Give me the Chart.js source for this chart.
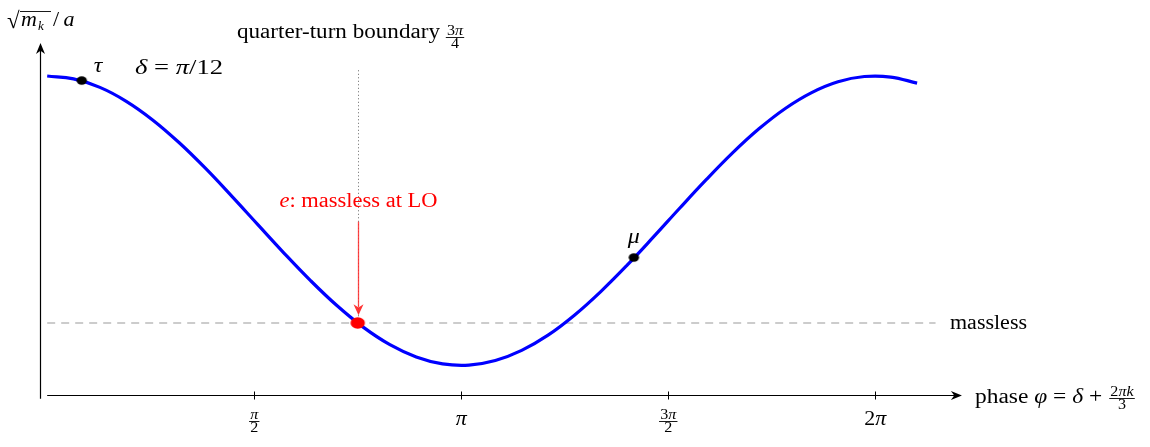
<!DOCTYPE html>
<html>
<head>
<meta charset="utf-8">
<script src="https://cdn.jsdelivr.net/npm/chart.js@4"></script>
<style>
  html, body { margin: 0; padding: 0; background: #fff; }
  #wrap { width: 1150px; height: 447px; position: relative; }
</style>
</head>
<body>
<div id="wrap"><canvas id="phaseChart"></canvas></div>
<script>
// curve: sqrt(m_k)/a against the phase
const phase = [0, 0.2, 0.4, 0.6, 0.8, 1.0, 1.2, 1.4, 1.6, 1.8, 2.0, 2.2, 2.4, 2.6, 2.8, 3.0, 3.2,
  3.4, 3.6, 3.8, 4.0, 4.2, 4.4, 4.6, 4.8, 5.0, 5.2, 5.4, 5.6, 5.8, 6.0, 6.2, 6.4, 6.6];
const rootMass = [2.414, 2.386, 2.303, 2.167, 1.985, 1.764, 1.513, 1.240, 0.959, 0.679, 0.412, 0.168,
  -0.043, -0.212, -0.332, -0.400, -0.412, -0.367, -0.268, -0.119, 0.076, 0.307, 0.565, 0.841,
  1.124, 1.401, 1.663, 1.898, 2.097, 2.252, 2.358, 2.409, 2.404, 2.344];

// the three leptons
const leptonNames = ['τ', 'e', 'μ'];
const leptonPhase = [0.262, 2.356, 4.451];
const leptonValue = [2.37, 0, 0.64];

// x ticks
const tickPhase = [1.571, 3.142, 4.712, 6.283];
const tickLabels = [['π', '2'], ['π'], ['3π', '2'], ['2π']];

const masslessLevel = 0;
const masslessEnd = 6.74;
const boundaryPhase = 2.356;
const boundaryTop = 2.47;

const serif = '"Liberation Serif", "DejaVu Serif", serif';

function font(size, italic) {
  return (italic ? 'italic ' : '') + size + 'px ' + serif;
}

// draw a row of text pieces [text, italic], optionally stretched to a width
function drawRuns(ctx, parts, x, y, o) {
  const size = o.size || 20;
  ctx.save();
  ctx.fillStyle = o.color || '#000';
  ctx.textBaseline = 'alphabetic';
  ctx.textAlign = 'left';
  let natural = 0;
  const widths = parts.map(p => {
    ctx.font = font(size, p[1]);
    const w = ctx.measureText(p[0]).width;
    natural += w;
    return w;
  });
  const sx = o.width ? o.width / natural : (o.stretch || 1);
  const total = natural * sx;
  let start = x;
  if (o.align === 'center') start = x - total / 2;
  if (o.align === 'right') start = x - total;
  ctx.translate(start, y);
  ctx.scale(sx, 1);
  let cx = 0;
  parts.forEach((p, i) => {
    ctx.font = font(size, p[1]);
    ctx.fillText(p[0], cx, 0);
    cx += widths[i];
  });
  ctx.restore();
  return start + total;
}

function splitPi(s) {
  // digits upright, letters italic
  const out = [];
  for (const ch of s) out.push([ch, !/[0-9]/.test(ch)]);
  return out;
}

function drawFrac(ctx, num, den, cx, barY, size, color) {
  ctx.save();
  ctx.font = font(size, true);
  const w = (Math.max(ctx.measureText(num).width, ctx.measureText(den).width) + 2) * 1.15;
  ctx.fillStyle = color || '#000';
  ctx.fillRect(cx - w / 2, barY - 0.4, w, 0.9);
  ctx.restore();
  drawRuns(ctx, splitPi(num), cx, barY - 2.2, { size: size, align: 'center', color: color, stretch: 1.15 });
  drawRuns(ctx, splitPi(den), cx, barY + size * 0.74, { size: size, align: 'center', color: color, stretch: 1.15 });
}

function arrowHead(ctx, tx, ty, dx, dy, len, half, color) {
  const n = Math.hypot(dx, dy);
  const ux = dx / n, uy = dy / n;
  ctx.save();
  ctx.fillStyle = color;
  ctx.beginPath();
  ctx.moveTo(tx, ty);
  ctx.lineTo(tx - ux * len - uy * half, ty - uy * len + ux * half);
  ctx.lineTo(tx - ux * len * 0.7, ty - uy * len * 0.7);
  ctx.lineTo(tx - ux * len + uy * half, ty - uy * len - ux * half);
  ctx.closePath();
  ctx.fill();
  ctx.restore();
}

// lepton markers are drawn a little wider than tall, as in the original
function ellipseMarker(rx, ry, color) {
  const c = document.createElement('canvas');
  c.width = Math.ceil(rx * 2) + 2;
  c.height = Math.ceil(ry * 2) + 2;
  const g = c.getContext('2d');
  g.fillStyle = color;
  g.beginPath();
  g.ellipse(c.width / 2, c.height / 2, rx, ry, 0, 0, Math.PI * 2);
  g.fill();
  return c;
}

const axesPlugin = {
  id: 'texAxes',
  beforeDatasetsDraw(chart) {
    const ctx = chart.ctx;
    const xs = chart.scales.x, ys = chart.scales.y;
    const axisY = Math.round(ys.getPixelForValue(-0.7)) + 0.5;
    const x0 = xs.getPixelForValue(0);
    const xEnd = xs.getPixelForValue(6.94);
    const yAxisX = Math.round(xs.getPixelForValue(-0.055)) + 0.5;
    ctx.save();
    ctx.strokeStyle = '#000';
    ctx.lineWidth = 1.2;
    ctx.beginPath();
    ctx.moveTo(x0, axisY);
    ctx.lineTo(xEnd - 6, axisY);
    ctx.moveTo(yAxisX, ys.getPixelForValue(-0.74));
    ctx.lineTo(yAxisX, ys.getPixelForValue(2.737) + 6);
    ctx.stroke();
    arrowHead(ctx, xEnd, axisY, 1, 0, 11, 4.5, '#000');
    arrowHead(ctx, yAxisX, ys.getPixelForValue(2.737), 0, -1, 11, 4.5, '#000');

    ctx.lineWidth = 1;
    tickPhase.forEach(v => {
      const px = Math.round(xs.getPixelForValue(v)) + 0.5;
      ctx.beginPath();
      ctx.moveTo(px, axisY - 4);
      ctx.lineTo(px, axisY + 4);
      ctx.stroke();
    });
    ctx.restore();

    tickPhase.forEach((v, i) => {
      const px = xs.getPixelForValue(v);
      const lab = tickLabels[i];
      if (lab.length === 2) drawFrac(ctx, lab[0], lab[1], px, axisY + 26, 14);
      else drawRuns(ctx, splitPi(lab[0]), px, axisY + 29, { size: 20, align: 'center', stretch: 1.1 });
    });

    // dotted boundary
    const bx = Math.round(xs.getPixelForValue(boundaryPhase)) + 0.5;
    ctx.save();
    ctx.strokeStyle = '#666';
    ctx.lineWidth = 1;
    ctx.setLineDash([1, 2.5]);
    ctx.beginPath();
    ctx.moveTo(bx, ys.getPixelForValue(boundaryTop));
    ctx.lineTo(bx, ys.getPixelForValue(0.05));
    ctx.stroke();
    ctx.restore();
  },
  afterDatasetsDraw(chart) {
    const ctx = chart.ctx;
    const xs = chart.scales.x, ys = chart.scales.y;

    // red arrow onto the electron
    const ex = Math.round(xs.getPixelForValue(leptonPhase[1])) + 0.5;
    const top = ys.getPixelForValue(0.99);
    const tip = ys.getPixelForValue(0.075);
    ctx.save();
    ctx.strokeStyle = 'rgba(255,40,40,0.85)';
    ctx.lineWidth = 1.3;
    ctx.beginPath();
    ctx.moveTo(ex, top);
    ctx.lineTo(ex, tip - 8);
    ctx.stroke();
    ctx.restore();
    arrowHead(ctx, ex, tip, 0, 1, 11, 5, 'rgba(255,30,30,0.9)');

    // axis labels
    ctx.save();
    ctx.strokeStyle = '#000';
    ctx.lineWidth = 0.9;
    ctx.beginPath();
    ctx.moveTo(20, 11.5);
    ctx.lineTo(51, 11.5);
    ctx.stroke();
    ctx.restore();
    drawRuns(ctx, [['√', false]], 7, 28, { size: 23 });
    drawRuns(ctx, [['m', true]], 21, 26, { size: 20, stretch: 1.1 });
    drawRuns(ctx, [['k', true]], 38, 30, { size: 13 });
    drawRuns(ctx, [['/', false], ['\u2009a', true]], 53, 26, { size: 20, stretch: 1.1 });

    const endPhase = drawRuns(ctx, [['phase ', false], ['φ', true], [' = ', false], ['δ', true], [' + ', false]],
      975, 403, { size: 20, width: 133 });
    drawFrac(ctx, '2πk', '3', endPhase + 14, 398.5, 14);

    drawRuns(ctx, [['massless', false]], 950, 329, { size: 20, width: 77 });

    const endQ = drawRuns(ctx, [['quarter-turn boundary', false]], 237, 38, { size: 20, width: 203 });
    drawFrac(ctx, '3π', '4', endQ + 15, 37.5, 14);

    drawRuns(ctx, [['e', true], [': massless at LO', false]], ex, 207, { size: 20, align: 'center', width: 158, color: '#ff0000' });

    drawRuns(ctx, [['τ', true]], 98, 72, { size: 20, align: 'center', stretch: 1.2 });
    drawRuns(ctx, [['δ', true], [' = ', false], ['π', true], ['/12', false]], 135, 74, { size: 20, width: 88 });
    drawRuns(ctx, [['μ', true]], xs.getPixelForValue(leptonPhase[2]), 243, { size: 20, align: 'center', stretch: 1.2 });
  }
};

const curvePoints = phase.map((p, i) => ({ x: p, y: rootMass[i] }));
const leptonPoints = leptonPhase.map((p, i) => ({ x: p, y: leptonValue[i] }));
const blackDot = ellipseMarker(5.2, 4.2, '#000');
const redDot = ellipseMarker(7.2, 5.8, '#ff0000');

new Chart(document.getElementById('phaseChart'), {
  type: 'scatter',
  data: {
    datasets: [
      {
        label: 'massless',
        order: 3,
        data: [{ x: 0, y: masslessLevel }, { x: masslessEnd, y: masslessLevel }],
        showLine: true,
        borderColor: '#9a9a9a',
        borderWidth: 1.2,
        borderDash: [8, 6],
        pointRadius: 0
      },
      {
        label: 'curve',
        order: 2,
        data: curvePoints,
        showLine: true,
        borderColor: '#0000ff',
        borderWidth: 3.2,
        tension: 0.4,
        pointRadius: 0
      },
      {
        label: 'leptons',
        order: 1,
        data: leptonPoints,
        pointStyle: leptonNames.map(n => n === 'e' ? redDot : blackDot),
        pointRadius: leptonNames.map(n => n === 'e' ? 7 : 5),
        borderWidth: 0
      }
    ]
  },
  options: {
    responsive: true,
    maintainAspectRatio: false,
    animation: false,
    layout: { padding: 0, autoPadding: false },
    scales: {
      x: { type: 'linear', display: false, min: -0.358, max: 8.367 },
      y: { type: 'linear', display: false, min: -1.212, max: 3.157 }
    },
    plugins: { legend: { display: false }, tooltip: { enabled: false } }
  },
  plugins: [axesPlugin]
});
</script>
</body>
</html>
